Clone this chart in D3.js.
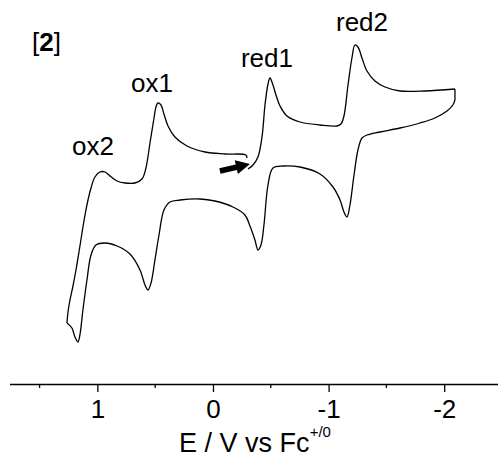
<!doctype html>
<html lang="en">
	<head>
		<meta charset="UTF-8">
		<title>Cyclic voltammogram [2]</title>
		<style>
			body { margin: 0; background: #fff; }
			svg { display: block; font-family: "Liberation Sans", Arial, sans-serif; }
			.cv { fill: none; stroke: #000; stroke-width: 1.3; stroke-linejoin: round; }
			.axis path, .axis line { stroke: #000; stroke-width: 1.3; }
			.axis text { font-size: 26px; fill: #000; font-family: "Liberation Sans", Arial, sans-serif; }
			.lbl { font-size: 26px; fill: #000; }
		</style>
	</head>
	<body>
		<svg id="chart"></svg>

		<script src="https://d3js.org/d3.v7.min.js"></script>
		<script>

			// Scan, in order: start at -0.3 V, go negative, back to +1.26 V, then back to -0.3 V
			var potential = [
				-0.303, -0.346, -0.389, -0.424, -0.450, -0.476, -0.493, -0.519, -0.545, -0.580,
				-0.640, -0.753, -0.926, -1.073, -1.107, -1.133, -1.168, -1.202, -1.228, -1.254,
				-1.289, -1.332, -1.401, -1.488, -1.618, -1.834, -2.093,
				-2.093, -2.075, -2.024, -1.920, -1.790, -1.618, -1.445, -1.332, -1.289, -1.254,
				-1.220, -1.185, -1.159, -1.133, -1.099, -1.038, -0.926, -0.753, -0.606, -0.519,
				-0.476, -0.441, -0.415, -0.389, -0.363, -0.320, -0.277, -0.173, -0.017, 0.112,
				0.285, 0.372, 0.424, 0.467, 0.502, 0.536, 0.562, 0.588, 0.631, 0.718,
				0.830, 0.934, 1.012, 1.055, 1.090, 1.125, 1.151, 1.168, 1.194, 1.220, 1.263,
				1.254, 1.237, 1.211, 1.185, 1.159, 1.133, 1.107, 1.081, 1.055, 1.021, 0.978,
				0.934, 0.891, 0.830, 0.761, 0.675, 0.614, 0.580, 0.545, 0.510, 0.493, 0.476,
				0.450, 0.424, 0.389, 0.329, 0.225, 0.069, -0.104, -0.285, -0.294
			];
			var current = [
				13.1, 13.5, 14.3, 16.3, 19.5, 21.6, 22.2, 21.5, 20.5, 19.4,
				18.4, 17.8, 17.5, 17.4, 17.6, 18.4, 21.5, 24.2, 25.5, 25.3,
				24.2, 22.9, 21.9, 21.3, 20.9, 20.9, 21.1,
				20.0, 19.5, 18.9, 18.2, 17.7, 17.2, 16.8, 16.5, 16.2, 15.0,
				12.5, 9.5, 8.3, 8.8, 10.0, 11.3, 12.6, 13.3, 13.4, 13.2,
				11.5, 7.5, 5.5, 5.0, 6.0, 7.4, 8.5, 9.3, 9.9, 10.1,
				10.0, 9.8, 9.0, 6.5, 4.0, 1.7, 1.0, 1.5, 3.0, 4.6,
				5.4, 5.7, 5.5, 4.5, 2.0, -1.0, -3.5, -4.2, -3.7, -2.8, -2.3,
				-1.2, 0.0, 1.4, 3.0, 4.8, 6.7, 8.5, 10.0, 11.2, 12.3, 12.8,
				12.8, 12.4, 11.9, 11.7, 11.7, 12.1, 13.2, 15.7, 18.2, 19.3, 19.7,
				19.5, 18.6, 17.4, 16.3, 15.4, 14.8, 14.6, 14.5, 14.2
			];
			// indices where the scan turns (corners are kept sharp)
			var turns = [26, 27, 77];

			// x axis ticks
			var majorTicks = [1, 0, -1, -2];
			var minorTicks = [1.5, 0.5, -0.5, -1.5];

			// peak labels
			var peakNames = ["ox2", "ox1", "red1", "red2"];
			var peakE = [1.038, 0.528, -0.467, -1.289];
			var peakI = [14.5, 20.8, 23.3, 26.9];

			// arrow marking the starting point
			var arrowE = [-0.06, -0.32];
			var arrowI = [12.9, 13.6];

			var svgWidth = 498, svgHeight = 458;
			var axisY = 384;

			var svg = d3.select("#chart")
				.attr("width", svgWidth)
				.attr("height", svgHeight);

			// potential axis is reversed (positive to the left)
			var xScale = d3.scaleLinear()
				.domain([1.76, -2.5])
				.range([9.5, 502]);

			var yScale = d3.scaleLinear()
				.domain([-8.4, 30])
				.range([axisY, 0]);

			// the trace, one piece between each pair of turning points
			var line = d3.line()
				.x(function(i) { return xScale(potential[i]); })
				.y(function(i) { return yScale(current[i]); })
				.curve(d3.curveCatmullRom.alpha(0.5));

			var cuts = [0].concat(turns, [potential.length - 1]);
			var pieces = d3.range(cuts.length - 1).map(function(k) {
				return d3.range(cuts[k], cuts[k + 1] + 1);
			});

			svg.selectAll(".cv")
				.data(pieces)
				.enter()
				.append("path")
				.attr("class", "cv")
				.attr("d", line);

			// bottom axis
			var xAxis = d3.axisBottom(xScale)
				.tickValues(majorTicks)
				.tickFormat(function(d) { return d < 0 ? "-" + (-d) : d; })
				.tickSize(8)
				.tickSizeOuter(0)
				.tickPadding(8);

			var gx = svg.append("g")
				.attr("class", "axis")
				.attr("transform", "translate(0," + axisY + ")")
				.call(xAxis);

			gx.selectAll(".minor")
				.data(minorTicks)
				.enter()
				.append("line")
				.attr("class", "minor")
				.attr("x1", function(d) { return xScale(d); })
				.attr("x2", function(d) { return xScale(d); })
				.attr("y1", 0)
				.attr("y2", 4);

			// axis title
			var title = svg.append("text")
				.attr("class", "lbl")
				.attr("x", 255)
				.attr("y", 452)
				.attr("text-anchor", "middle")
				.style("font-size", "27px");
			title.append("tspan").text("E / V vs Fc");
			title.append("tspan")
				.attr("dy", -15)
				.style("font-size", "15px")
				.text("+/0");

			// compound label
			var cmp = svg.append("text")
				.attr("class", "lbl")
				.attr("x", 32)
				.attr("y", 51);
			cmp.append("tspan").text("[");
			cmp.append("tspan").style("font-weight", "bold").text("2");
			cmp.append("tspan").text("]");

			// peak labels
			svg.selectAll(".peak")
				.data(peakNames)
				.enter()
				.append("text")
				.attr("class", "lbl peak")
				.attr("text-anchor", "middle")
				.attr("x", function(d, i) { return xScale(peakE[i]); })
				.attr("y", function(d, i) { return yScale(peakI[i]); })
				.text(function(d) { return d; });

			// start arrow
			var x0 = xScale(arrowE[0]), y0 = yScale(arrowI[0]);
			var x1 = xScale(arrowE[1]), y1 = yScale(arrowI[1]);
			var ang = Math.atan2(y1 - y0, x1 - x0);
			var len = Math.hypot(x1 - x0, y1 - y0);
			var headL = 14, headW = 7, shaftW = 2.8;
			var pts = [
				[0, -shaftW], [len - headL, -shaftW], [len - headL, -headW],
				[len, 0], [len - headL, headW], [len - headL, shaftW], [0, shaftW]
			];
			svg.append("polygon")
				.attr("points", pts.map(function(p) { return p.join(","); }).join(" "))
				.attr("transform", "translate(" + x0 + "," + y0 + ") rotate(" + (ang * 180 / Math.PI) + ")")
				.attr("fill", "#000");

		</script>
	</body>
</html>
